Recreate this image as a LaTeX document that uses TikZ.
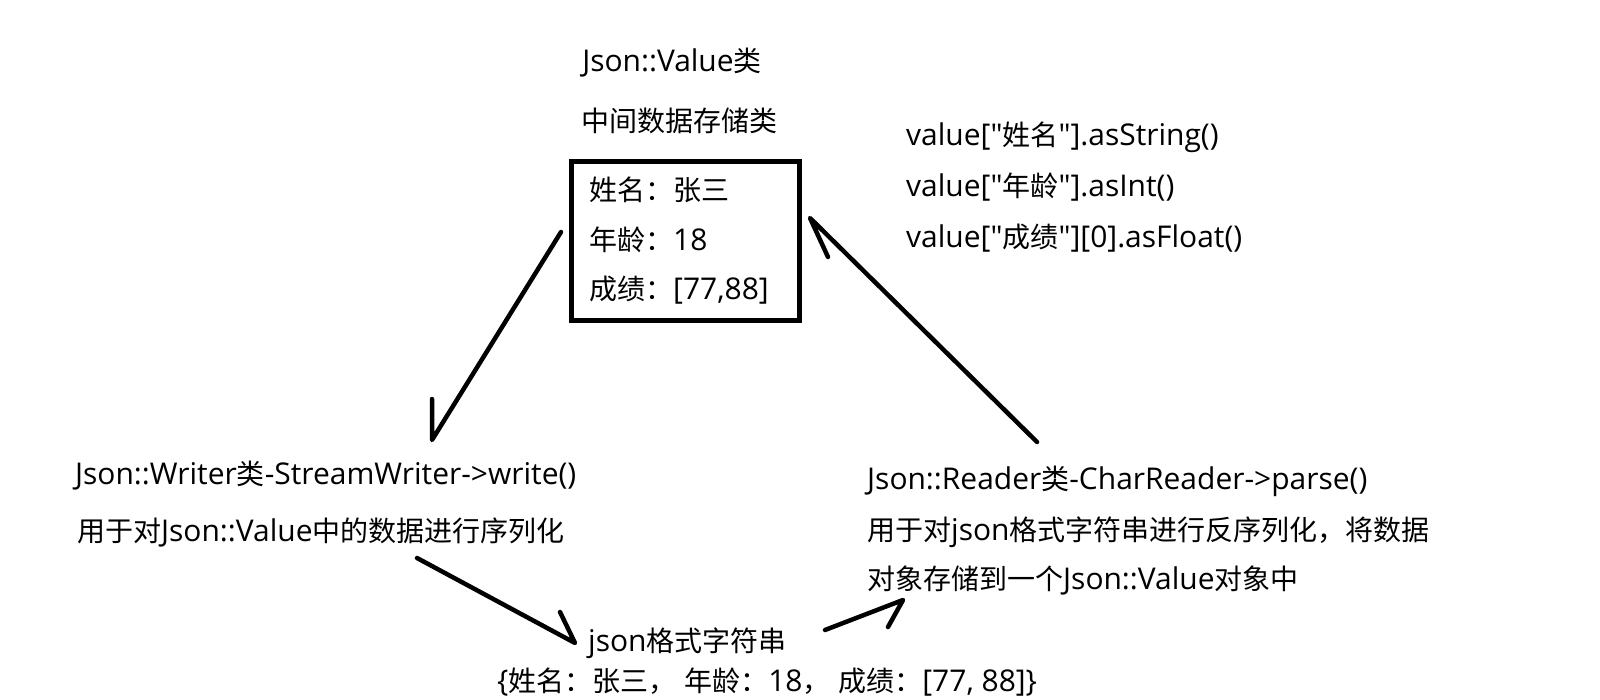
\documentclass[tikz,border=0pt]{standalone}
\usepackage{fontspec}
\setmainfont{Open Sans}[Scale=1.07, Ligatures=TeXOff]
\newfontfamily\cjkfont{Noto Sans CJK SC}[Ligatures=TeXOff]
\newcommand{\cn}[1]{{\cjkfont #1}}
\begin{document}
\begin{tikzpicture}[x=1pt,y=-1pt,
  txt/.style={inner sep=0pt, font=\fontsize{28}{34}\selectfont},
  tl/.style={txt, anchor=west},
  arrowline/.style={line width=4.5pt, line cap=round, line join=round},
  databox/.style={draw, line width=5pt, inner sep=0pt, anchor=north west}]
\useasboundingbox[fill=white] (0,0) rectangle (1600,700);

% title
\node[txt] (title1) at (672,63) {Json::Value\cn{类}};
\node[txt] (title2) at (679,121) {\cn{中间数据存储类}};

% box
\node[databox, minimum width=228pt, minimum height=159pt] (box) at (569,159) {};
\node[tl] (b1) at (589,190) {\cn{姓名：张三}};
\node[tl] (b2) at (589,240) {\cn{年龄：}18};
\node[tl] (b3) at (589,290) {\cn{成绩：}[77,88]};

% right accessor text
\node[tl] (r1) at (906,137) {value["\cn{姓名}"].asString()};
\node[tl] (r2) at (906,187) {value["\cn{年龄}"].asInt()};
\node[tl] (r3) at (906,238) {value["\cn{成绩}"][0].asFloat()};

% writer
\node[tl] (w1) at (75,476) {Json::Writer\cn{类}-StreamWriter->write()};
\node[tl] (w2) at (77,532) {\cn{用于对}Json::Value\cn{中的数据进行序列化}};

% reader
\node[tl] (rd1) at (867,481) {Json::Reader\cn{类}-CharReader->parse()};
\node[tl] (rd2) at (867,532) {\cn{用于对}json\cn{格式字符串进行反序列化，将数据}};
\node[tl] (rd3) at (867,580) {\cn{对象存储到一个}Json::Value\cn{对象中}};

% json string
\node[tl] (j1) at (588,643) {json\cn{格式字符串}};
\node[tl] (j2) at (497,682) {\{\cn{姓名：张三，} \cn{年龄：}18\cn{，} \cn{成绩：}[77, 88]\}};

% arrow coordinates
\coordinate (a1s) at (561,232);
\coordinate (a1t) at (432,440);
\coordinate (a1b) at (432,399);
\coordinate (a2s) at (1037,442);
\coordinate (a2t) at (810,218);
\coordinate (a2b) at (828,257);
\coordinate (a3s) at (417,558);
\coordinate (a3t) at (575,643);
\coordinate (a3b) at (560,612);
\coordinate (a4s) at (825,630);
\coordinate (a4t) at (903,600);
\coordinate (a4b) at (888,627);

\draw[arrowline] (a1s) -- (a1t) -- (a1b);
\draw[arrowline] (a2s) -- (a2t) -- (a2b);
\draw[arrowline] (a3s) -- (a3t) -- (a3b);
\draw[arrowline] (a4s) -- (a4t) -- (a4b);
\end{tikzpicture}
\end{document}
